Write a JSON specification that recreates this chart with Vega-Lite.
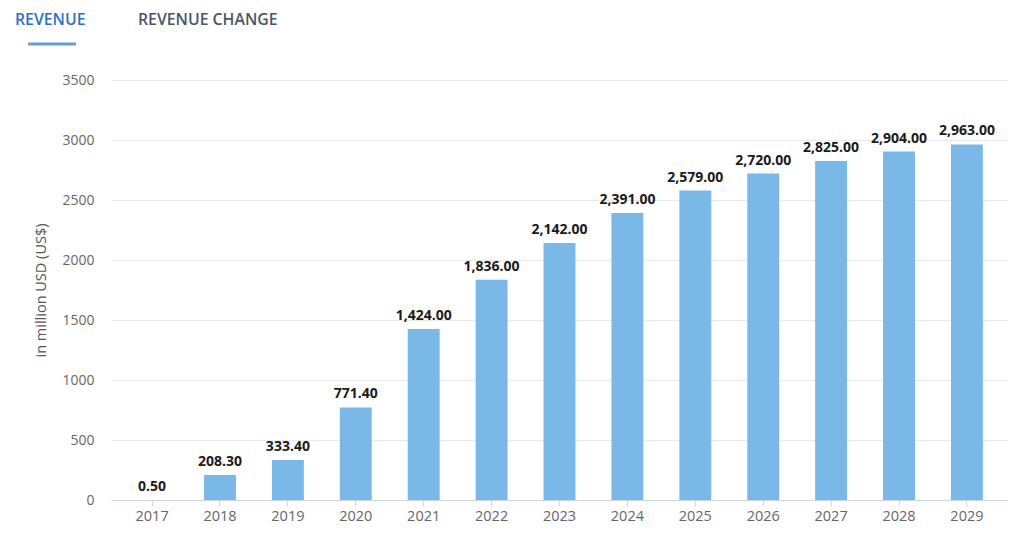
{
  "$schema": "https://vega.github.io/schema/vega-lite/v6.json",
  "padding": {"left": 15, "top": 0, "right": 0, "bottom": 0},
  "background": "white",
  "config": {"view": {"stroke": null}, "font": "Open Sans"},
  "spacing": 40,
  "bounds": "flush",
  "vconcat": [
    {
      "width": 897,
      "height": 40,
      "data": {"values": [{"tab": "REVENUE", "active": true}, {"tab": "REVENUE CHANGE", "active": false}]},
      "layer": [
        {
          "mark": {"type": "text", "align": "left", "baseline": "middle", "fontSize": 15.8, "fontWeight": 600},
          "encoding": {
            "x": {"field": "tab", "type": "nominal", "sort": null, "scale": {"type": "point", "range": [-96, 27], "padding": 0}, "axis": null},
            "text": {"field": "tab"},
            "color": {"condition": {"test": "datum.active", "value": "#2a6fc9"}, "value": "#4a5668"}
          }
        },
        {
          "transform": [{"filter": "datum.active"}],
          "mark": {"type": "tick", "orient": "horizontal", "color": "#2a6fc9", "size": 48, "thickness": 3, "yOffset": 24, "xOffset": 37},
          "encoding": {"x": {"field": "tab", "type": "nominal", "sort": null, "axis": null}}
        }
      ]
    },
    {
      "width": 897,
      "height": 420,
      "data": {"values": [
        {"year": "2017", "revenue": 0.5},
        {"year": "2018", "revenue": 208.3},
        {"year": "2019", "revenue": 333.4},
        {"year": "2020", "revenue": 771.4},
        {"year": "2021", "revenue": 1424},
        {"year": "2022", "revenue": 1836},
        {"year": "2023", "revenue": 2142},
        {"year": "2024", "revenue": 2391},
        {"year": "2025", "revenue": 2579},
        {"year": "2026", "revenue": 2720},
        {"year": "2027", "revenue": 2825},
        {"year": "2028", "revenue": 2904},
        {"year": "2029", "revenue": 2963}
      ]},
      "encoding": {
        "x": {
          "field": "year", "type": "ordinal",
          "scale": {"paddingInner": 0.53, "paddingOuter": 0.37},
          "axis": {"title": null, "labelAngle": 0, "labelColor": "#666666", "labelFontSize": 14.5, "labelPadding": 3,
                   "domainColor": "#ccd6eb", "tickColor": "#ccd6eb", "tickSize": 6, "grid": false}
        },
        "y": {
          "field": "revenue", "type": "quantitative",
          "scale": {"domain": [0, 3500], "nice": false},
          "axis": {"title": "in million USD (US$)", "titleColor": "#555555", "titleFontSize": 14.5, "titleFontWeight": "normal",
                   "titlePadding": 13, "values": [0, 500, 1000, 1500, 2000, 2500, 3000, 3500], "format": "d",
                   "labelColor": "#666666", "labelFontSize": 14, "labelPadding": 17, "domain": false, "ticks": false,
                   "gridColor": "#e9e9e9"}
        }
      },
      "layer": [
        {"mark": {"type": "bar", "color": "#7ab8e8"}},
        {
          "mark": {"type": "text", "baseline": "bottom", "dy": -6, "fontSize": 14, "fontWeight": "bold", "color": "#1a1a1a"},
          "encoding": {"text": {"field": "revenue", "type": "quantitative", "format": ",.2f"}}
        }
      ]
    }
  ]
}
